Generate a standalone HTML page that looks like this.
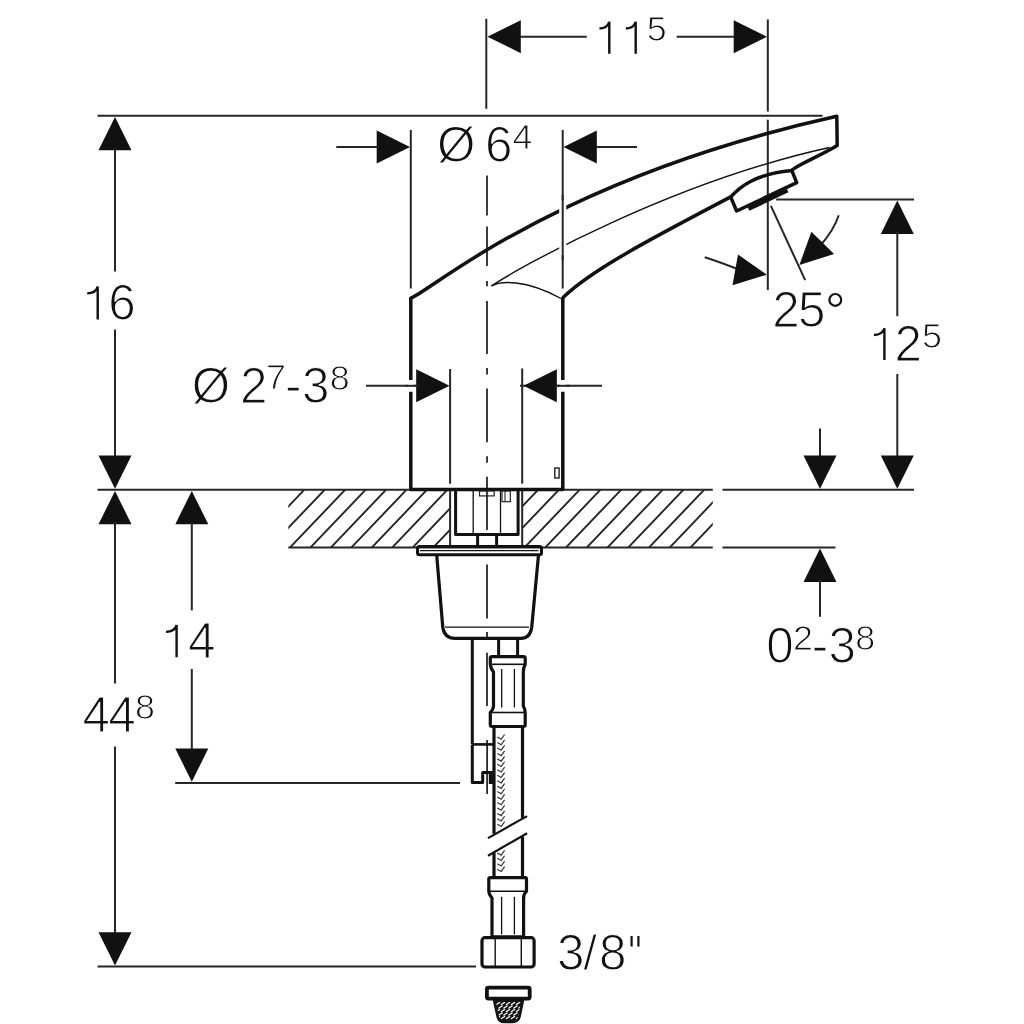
<!DOCTYPE html>
<html><head><meta charset="utf-8"><style>html,body{margin:0;padding:0;background:#fff;width:1024px;height:1024px;overflow:hidden}svg{display:block;will-change:transform}</style></head>
<body><svg width="1024" height="1024" viewBox="0 0 1024 1024">
<rect width="1024" height="1024" fill="#fff"/>
<g stroke-linecap="butt">
<line x1="97.5" y1="115.8" x2="822.5" y2="115.8" stroke="#262626" stroke-width="2.0"/>
<line x1="97.5" y1="489.8" x2="712.8" y2="489.8" stroke="#262626" stroke-width="2.0"/>
<line x1="722.5" y1="489.8" x2="914" y2="489.8" stroke="#262626" stroke-width="2.0"/>
<line x1="288.3" y1="547.4" x2="712.8" y2="547.4" stroke="#262626" stroke-width="2.0"/>
<line x1="722.5" y1="547.4" x2="835.5" y2="547.4" stroke="#262626" stroke-width="2.0"/>
<line x1="175.2" y1="783" x2="460" y2="783" stroke="#262626" stroke-width="2.0"/>
<line x1="97.5" y1="966.5" x2="476" y2="966.5" stroke="#262626" stroke-width="2.0"/>
<line x1="776.2" y1="199.6" x2="914" y2="199.6" stroke="#262626" stroke-width="2.0"/>
<line x1="486.3" y1="18.8" x2="486.3" y2="108.8" stroke="#262626" stroke-width="2.0"/>
<line x1="767.8" y1="19.5" x2="767.8" y2="111.6" stroke="#262626" stroke-width="2.0"/>
<line x1="767.8" y1="119.7" x2="767.8" y2="290" stroke="#262626" stroke-width="2.0"/>
<line x1="520" y1="36.7" x2="586.8" y2="36.7" stroke="#262626" stroke-width="2.0"/>
<line x1="676.7" y1="36.7" x2="735" y2="36.7" stroke="#262626" stroke-width="2.0"/>
<polygon points="487.5,36.7 520.8,20.2 520.8,53.2" fill="#111"/>
<polygon points="767,36.7 733.7,53.2 733.7,20.2" fill="#111"/>
<line x1="410.8" y1="130" x2="410.8" y2="288.5" stroke="#262626" stroke-width="2.0"/>
<line x1="562.7" y1="130" x2="562.7" y2="288.5" stroke="#262626" stroke-width="2.0"/>
<line x1="336.3" y1="147" x2="380" y2="147" stroke="#262626" stroke-width="2.0"/>
<line x1="594" y1="147" x2="637" y2="147" stroke="#262626" stroke-width="2.0"/>
<polygon points="410,147 376.7,163.5 376.7,130.5" fill="#111"/>
<polygon points="563.5,147 596.8,130.5 596.8,163.5" fill="#111"/>
<line x1="115" y1="148" x2="115" y2="271.6" stroke="#262626" stroke-width="2.0"/>
<line x1="115" y1="329.4" x2="115" y2="456" stroke="#262626" stroke-width="2.0"/>
<polygon points="115,117 131.5,150.3 98.5,150.3" fill="#111"/>
<polygon points="115,488.8 98.5,455.5 131.5,455.5" fill="#111"/>
<polygon points="115,491 131.5,524.3 98.5,524.3" fill="#111"/>
<line x1="115" y1="522" x2="115" y2="683.5" stroke="#262626" stroke-width="2.0"/>
<line x1="115" y1="746.5" x2="115" y2="935" stroke="#262626" stroke-width="2.0"/>
<polygon points="115,965.5 98.5,932.2 131.5,932.2" fill="#111"/>
<polygon points="191.8,491 208.3,524.3 175.3,524.3" fill="#111"/>
<line x1="191.8" y1="522" x2="191.8" y2="610.4" stroke="#262626" stroke-width="2.0"/>
<line x1="191.8" y1="669" x2="191.8" y2="750" stroke="#262626" stroke-width="2.0"/>
<polygon points="191.8,781.8 175.3,748.5 208.3,748.5" fill="#111"/>
<line x1="366" y1="385.8" x2="420" y2="385.8" stroke="#262626" stroke-width="2.0"/>
<line x1="520" y1="385.8" x2="602" y2="385.8" stroke="#262626" stroke-width="2.0"/>
<polygon points="449.5,385.8 416.2,402.3 416.2,369.3" fill="#111"/>
<polygon points="523.5,385.8 556.8,369.3 556.8,402.3" fill="#111"/>
<line x1="450.1" y1="369" x2="450.1" y2="483.7" stroke="#262626" stroke-width="2.0"/>
<line x1="522.2" y1="368.5" x2="522.2" y2="483.7" stroke="#262626" stroke-width="2.0"/>
<line x1="450.1" y1="489.6" x2="450.1" y2="547.4" stroke="#262626" stroke-width="2.0"/>
<line x1="522.2" y1="489.6" x2="522.2" y2="547.4" stroke="#262626" stroke-width="2.0"/>
<polygon points="897.3,200.6 913.8,233.9 880.8,233.9" fill="#111"/>
<line x1="897.3" y1="232" x2="897.3" y2="316.2" stroke="#262626" stroke-width="2.0"/>
<line x1="897.3" y1="374" x2="897.3" y2="458" stroke="#262626" stroke-width="2.0"/>
<polygon points="897.3,488.8 880.8,455.5 913.8,455.5" fill="#111"/>
<line x1="820" y1="428.5" x2="820" y2="458" stroke="#262626" stroke-width="2.0"/>
<polygon points="820,488.8 803.5,455.5 836.5,455.5" fill="#111"/>
<polygon points="820,548.6 836.5,581.9 803.5,581.9" fill="#111"/>
<line x1="820" y1="580" x2="820" y2="616.7" stroke="#262626" stroke-width="2.0"/>
<line x1="770.9" y1="205.9" x2="805.2" y2="280.2" stroke="#262626" stroke-width="2.0"/>
<path d="M704.7,257.2 Q720,262 740,270" stroke="#262626" stroke-width="2.0" fill="none" stroke-linejoin="round" />
<polygon points="766.9,274.7 738,254.4 732.5,285.3" fill="#111"/>
<path d="M838.75,215.3 Q834,230 820,246" stroke="#262626" stroke-width="2.0" fill="none" stroke-linejoin="round" />
<polygon points="799.4,265 811.4,231.7 834.1,254" fill="#111"/>
<line x1="487" y1="175.6" x2="487" y2="215.6" stroke="#262626" stroke-width="1.8"/>
<line x1="487" y1="226.5" x2="487" y2="266.1" stroke="#262626" stroke-width="1.8"/>
<line x1="487" y1="281" x2="487" y2="286.3" stroke="#262626" stroke-width="1.8"/>
<line x1="487" y1="301" x2="487" y2="354.1" stroke="#262626" stroke-width="1.8"/>
<line x1="487" y1="368" x2="487" y2="374.6" stroke="#262626" stroke-width="1.8"/>
<line x1="487" y1="388.5" x2="487" y2="442.3" stroke="#262626" stroke-width="1.8"/>
<line x1="487" y1="456.2" x2="487" y2="462.7" stroke="#262626" stroke-width="1.8"/>
<line x1="487" y1="476.8" x2="487" y2="530" stroke="#262626" stroke-width="1.8"/>
<line x1="487" y1="564.6" x2="487" y2="618.6" stroke="#262626" stroke-width="1.8"/>
<line x1="487" y1="632" x2="487" y2="640" stroke="#262626" stroke-width="1.8"/>
<line x1="487" y1="652.8" x2="487" y2="706" stroke="#262626" stroke-width="1.8"/>
<clipPath id="hl"><rect x="288.3" y="489.6" width="161.8" height="57.8"/></clipPath>
<clipPath id="hr"><rect x="522.2" y="489.6" width="190.6" height="57.8"/></clipPath>
<path d="M243.05,489.6 L187.85,547.4 M263.50,489.6 L208.30,547.4 M283.95,489.6 L228.75,547.4 M304.40,489.6 L249.20,547.4 M324.85,489.6 L269.65,547.4 M345.30,489.6 L290.10,547.4 M365.75,489.6 L310.55,547.4 M386.20,489.6 L331.00,547.4 M406.65,489.6 L351.45,547.4 M427.10,489.6 L371.90,547.4 M447.55,489.6 L392.35,547.4 M468.00,489.6 L412.80,547.4 M488.45,489.6 L433.25,547.4 M508.90,489.6 L453.70,547.4 M529.35,489.6 L474.15,547.4" stroke="#262626" stroke-width="1.9" clip-path="url(#hl)"/>
<path d="M476.05,489.6 L420.85,547.4 M496.80,489.6 L441.60,547.4 M517.55,489.6 L462.35,547.4 M538.30,489.6 L483.10,547.4 M559.05,489.6 L503.85,547.4 M579.80,489.6 L524.60,547.4 M600.55,489.6 L545.35,547.4 M621.30,489.6 L566.10,547.4 M642.05,489.6 L586.85,547.4 M662.80,489.6 L607.60,547.4 M683.55,489.6 L628.35,547.4 M704.30,489.6 L649.10,547.4 M725.05,489.6 L669.85,547.4 M745.80,489.6 L690.60,547.4" stroke="#262626" stroke-width="1.9" clip-path="url(#hr)"/>
<path d="M410.8,298.1 C433.6,289.0 558.2,177.8 836.8,116.3 L837.2,145.5 C822.6,154.7 793.5,166.7 791.8,170.5 L796.7,182.7 L736.6,211 L730.7,196.9 C647.5,240.5 591.7,270.1 563.8,296.8 L562.8,298.3 L562.8,489.5 L410.8,489.5 Z" stroke="#111" stroke-width="3.5" fill="none" stroke-linejoin="round" />
<path d="M730.7,196.9 C740,187 755,174 791.8,170.5" stroke="#111" stroke-width="3.5" fill="none" stroke-linejoin="round" />
<path d="M748.3,208.6 L787.4,190" stroke="#111" stroke-width="5.0" fill="none" stroke-linejoin="round" />
<circle cx="835.3" cy="299.9" r="5.9" fill="none" stroke="#111" stroke-width="2.2"/>
<path d="M631.6,936 V946.5 M638.4,936 V946.5" stroke="#111" stroke-width="2.2"/>
<path d="M491.4,286.0 C520.7,266.5 671.9,182.0 829.5,147.5" stroke="#111" stroke-width="1.4" fill="none" stroke-linejoin="round" />
<path d="M491.4,286 C500,281 525,279 561,298.5" stroke="#111" stroke-width="1.4" fill="none" stroke-linejoin="round" />
<line x1="562.7" y1="200" x2="562.7" y2="255" stroke="#fff" stroke-width="7"/>
<line x1="562.7" y1="195" x2="562.7" y2="260" stroke="#262626" stroke-width="2.0"/>
<path d="M410.8,380 V391.8 M562.8,380 V391.8" stroke="#fff" stroke-width="6"/>
<line x1="405" y1="385.8" x2="420" y2="385.8" stroke="#262626" stroke-width="2.0"/>
<line x1="555" y1="385.8" x2="570" y2="385.8" stroke="#262626" stroke-width="2.0"/>
<rect x="554.8" y="468" width="4.3" height="10" fill="none" stroke="#111" stroke-width="1.3"/>
<path d="M455.6,489.6 V534.6 H518.1 V489.6" stroke="#111" stroke-width="3.0" fill="none" stroke-linejoin="round" />
<line x1="473.2" y1="490" x2="473.2" y2="534" stroke="#111" stroke-width="1.3"/>
<line x1="500.5" y1="490" x2="500.5" y2="534" stroke="#111" stroke-width="1.3"/>
<rect x="479.5" y="491" width="14.7" height="4.9" fill="none" stroke="#222" stroke-width="1.2"/>
<rect x="502" y="491" width="8.3" height="10.7" fill="none" stroke="#222" stroke-width="1.2"/>
<line x1="505" y1="491" x2="505" y2="501.7" stroke="#111" stroke-width="1"/>
<line x1="477.6" y1="535" x2="477.6" y2="546.5" stroke="#111" stroke-width="3.0"/>
<line x1="496.6" y1="535" x2="496.6" y2="546.5" stroke="#111" stroke-width="3.0"/>
<rect x="417.5" y="546.6" width="124" height="8.2" rx="2" fill="none" stroke="#111" stroke-width="3"/>
<line x1="420" y1="550.7" x2="538.5" y2="550.7" stroke="#111" stroke-width="1.2"/>
<path d="M436.7,555 L442.8,627.5 Q444.5,638.4 455,638.4 L521,638.4 Q530,638.4 531.7,627.5 L538.5,555" stroke="#111" stroke-width="3.2" fill="none" stroke-linejoin="round" />
<line x1="444.9" y1="627.1" x2="529" y2="627.1" stroke="#111" stroke-width="1.3"/>
<line x1="472.3" y1="638" x2="472.3" y2="744" stroke="#111" stroke-width="3.0"/>
<path d="M472.3,744.4 V782.5 H482.7 V772.4 H492.8" stroke="#111" stroke-width="3.0" fill="none" stroke-linejoin="round" />
<line x1="472.3" y1="744.4" x2="494" y2="744.4" stroke="#111" stroke-width="2.6"/>
<rect x="488.8" y="771.5" width="5" height="12.5" fill="#111"/>
<line x1="487.1" y1="740" x2="487.1" y2="794" stroke="#111" stroke-width="1.6"/>
<line x1="498.6" y1="640" x2="498.6" y2="657" stroke="#111" stroke-width="3.0"/>
<line x1="517.6" y1="640" x2="517.6" y2="657" stroke="#111" stroke-width="3.0"/>
<path d="M490.3,658 Q490.3,656.7 492,656.7 L523.5,656.7 Q525.2,656.7 525.2,658 L525.2,664.3 Q523.3,668 523.3,672 L523.3,706 Q525.2,709 525.2,712.5 L525.2,724.8 Q525.2,726.5 523.5,726.5 L492,726.5 Q490.3,726.5 490.3,724.8 L490.3,712.5 Q493.5,709 493.5,706 L493.5,672 Q490.3,668 490.3,664.3 Z" stroke="#111" stroke-width="3.2" fill="none" stroke-linejoin="round" />
<line x1="492" y1="664.3" x2="524" y2="664.3" stroke="#111" stroke-width="1.6"/>
<line x1="492" y1="712.5" x2="524" y2="712.5" stroke="#111" stroke-width="1.6"/>
<line x1="501.7" y1="669" x2="501.7" y2="707.5" stroke="#111" stroke-width="1.3"/>
<line x1="514.4" y1="669" x2="514.4" y2="707.5" stroke="#111" stroke-width="1.3"/>
<line x1="494" y1="727" x2="494" y2="833.7" stroke="#111" stroke-width="3.2"/>
<line x1="522.5" y1="727" x2="522.5" y2="818" stroke="#111" stroke-width="3.2"/>
<line x1="494" y1="852.7" x2="494" y2="877" stroke="#111" stroke-width="3.2"/>
<line x1="522.5" y1="836.6" x2="522.5" y2="877" stroke="#111" stroke-width="3.2"/>
<line x1="488" y1="838.1" x2="527.1" y2="816.1" stroke="#111" stroke-width="2.2"/>
<line x1="488" y1="855.7" x2="527.1" y2="833.2" stroke="#111" stroke-width="2.2"/>
<path d="M497.3,737.10 L501.2,739.30 L504.6,734.50 M497.3,742.55 L501.2,744.75 L504.6,739.95 M497.3,748.00 L501.2,750.20 L504.6,745.40 M497.3,753.45 L501.2,755.65 L504.6,750.85 M497.3,758.90 L501.2,761.10 L504.6,756.30 M497.3,764.35 L501.2,766.55 L504.6,761.75 M497.3,769.80 L501.2,772.00 L504.6,767.20 M497.3,775.25 L501.2,777.45 L504.6,772.65 M497.3,780.70 L501.2,782.90 L504.6,778.10 M497.3,786.15 L501.2,788.35 L504.6,783.55 M497.3,791.60 L501.2,793.80 L504.6,789.00 M497.3,797.05 L501.2,799.25 L504.6,794.45 M497.3,802.50 L501.2,804.70 L504.6,799.90 M497.3,807.95 L501.2,810.15 L504.6,805.35 M497.3,813.40 L501.2,815.60 L504.6,810.80 M497.3,818.85 L501.2,821.05 L504.6,816.25 M497.3,824.30 L501.2,826.50 L504.6,821.70 M497.3,852.90 L501.2,855.10 L504.6,850.30 M497.3,858.35 L501.2,860.55 L504.6,855.75 M497.3,863.80 L501.2,866.00 L504.6,861.20 M497.3,869.25 L501.2,871.45 L504.6,866.65" stroke="#333" stroke-width="1.2" fill="none"/>
<path d="M488.8,879 Q488.8,877.6 490.5,877.6 L525,877.6 Q526.5,877.6 526.5,879 L526.5,891.2 Q523.6,894 523.6,898 L523.6,936.9 L492,936.9 L492,898 Q488.8,894 488.8,891.2 Z" stroke="#111" stroke-width="3.2" fill="none" stroke-linejoin="round" />
<line x1="490" y1="891.2" x2="525" y2="891.2" stroke="#111" stroke-width="1.6"/>
<line x1="501.6" y1="896.8" x2="501.6" y2="934.4" stroke="#111" stroke-width="1.3"/>
<line x1="514.4" y1="896.8" x2="514.4" y2="934.4" stroke="#111" stroke-width="1.3"/>
<rect x="482" y="937.7" width="52.1" height="29.3" rx="3" fill="none" stroke="#111" stroke-width="3.2"/>
<line x1="495.2" y1="939" x2="495.2" y2="966" stroke="#111" stroke-width="1.4"/>
<line x1="521.3" y1="939" x2="521.3" y2="966" stroke="#111" stroke-width="1.4"/>
<rect x="486.9" y="987.6" width="42.8" height="11" rx="1.5" fill="none" stroke="#111" stroke-width="3.8"/>
<path d="M493.5,1000 L523.5,1000 L520,1017 Q518.5,1022.5 512,1022.5 L504.5,1022.5 Q498.5,1022.5 497.2,1017 Z" stroke="#111" stroke-width="1.5" fill="#161616" stroke-linejoin="round" />
<clipPath id="cone"><path d="M496,1002 L521,1002 L518,1017 Q517,1020.5 512,1020.5 L504.5,1020.5 Q499.5,1020.5 499,1017 Z"/></clipPath>
<path d="M496.4,1004.6 L499.6,1002.4 M501.4,1004.6 L504.6,1002.4 M506.4,1004.6 L509.6,1002.4 M511.4,1004.6 L514.6,1002.4 M516.4,1004.6 L519.6,1002.4 M498.9,1008.1 L502.1,1005.9 M503.9,1008.1 L507.1,1005.9 M508.9,1008.1 L512.1,1005.9 M513.9,1008.1 L517.1,1005.9 M518.9,1008.1 L522.1,1005.9 M496.4,1011.6 L499.6,1009.4 M501.4,1011.6 L504.6,1009.4 M506.4,1011.6 L509.6,1009.4 M511.4,1011.6 L514.6,1009.4 M516.4,1011.6 L519.6,1009.4 M498.9,1015.1 L502.1,1012.9 M503.9,1015.1 L507.1,1012.9 M508.9,1015.1 L512.1,1012.9 M513.9,1015.1 L517.1,1012.9 M518.9,1015.1 L522.1,1012.9 M496.4,1018.6 L499.6,1016.4 M501.4,1018.6 L504.6,1016.4 M506.4,1018.6 L509.6,1016.4 M511.4,1018.6 L514.6,1016.4 M516.4,1018.6 L519.6,1016.4" stroke="#fff" stroke-width="1.2" stroke-linecap="round" clip-path="url(#cone)"/>
</g>
<g stroke="#111" stroke-linecap="butt">
<path d="M609.30,53.80 V21.70 C608.10,26.10 604.80,28.30 599.50,28.50" stroke-width="2.4" fill="none"/>
<path d="M635.70,53.80 V21.70 C634.50,26.10 631.20,28.30 625.90,28.50" stroke-width="2.4" fill="none"/>
<path d="M97.70,319.60 V286.60 C96.50,291.00 93.20,293.20 87.20,293.40" stroke-width="2.4" fill="none"/>
<path d="M884.40,360.10 V328.20 C883.20,332.60 879.90,334.80 873.90,335.00" stroke-width="2.4" fill="none"/>
<path d="M176.60,657.30 V625.10 C175.40,629.50 172.10,631.70 166.00,631.90" stroke-width="2.4" fill="none"/>
</g>
<g font-family="'Liberation Sans', sans-serif" fill="#111" stroke="#fff" paint-order="normal">
<text x="646.80" y="41.33" font-size="35.9" stroke-width="1.0">5</text>
<text x="437.05" y="162.28" font-size="49.4" stroke-width="1.2">Ø</text>
<text x="485.00" y="162.20" font-size="49.4" stroke-width="1.2">6</text>
<text x="512.62" y="148.90" font-size="35.9" stroke-width="1.0">4</text>
<text x="108.30" y="319.90" font-size="49.4" stroke-width="1.2">6</text>
<text x="191.75" y="402.67" font-size="49.4" stroke-width="1.2">Ø</text>
<text x="239.90" y="402.70" font-size="49.4" stroke-width="1.2">2</text>
<text x="266.12" y="388.50" font-size="35.9" stroke-width="1.0">7</text>
<text x="284.95" y="402.20" font-size="49.4" stroke-width="1.2">-</text>
<text x="302.02" y="403.10" font-size="49.4" stroke-width="1.2">3</text>
<text x="329.80" y="389.70" font-size="35.9" stroke-width="1.0">8</text>
<text x="772.15" y="326.70" font-size="49.4" stroke-width="1.2">2</text>
<text x="797.90" y="326.60" font-size="49.4" stroke-width="1.2">5</text>
<text x="894.40" y="360.70" font-size="49.4" stroke-width="1.2">2</text>
<text x="922.00" y="347.52" font-size="35.9" stroke-width="1.0">5</text>
<text x="766.32" y="663.10" font-size="49.4" stroke-width="1.2">0</text>
<text x="792.95" y="649.50" font-size="35.9" stroke-width="1.0">2</text>
<text x="811.65" y="662.40" font-size="49.4" stroke-width="1.2">-</text>
<text x="828.42" y="662.60" font-size="49.4" stroke-width="1.2">3</text>
<text x="855.30" y="649.80" font-size="35.9" stroke-width="1.0">8</text>
<text x="188.08" y="657.90" font-size="49.4" stroke-width="1.2">4</text>
<text x="82.48" y="732.00" font-size="49.4" stroke-width="1.2">4</text>
<text x="108.28" y="732.00" font-size="49.4" stroke-width="1.2">4</text>
<text x="135.00" y="718.60" font-size="35.9" stroke-width="1.0">8</text>
<text x="557.02" y="969.60" font-size="49.4" stroke-width="1.2">3</text>
<text x="583.15" y="969.60" font-size="49.4" stroke-width="1.2">/</text>
<text x="598.98" y="969.60" font-size="49.4" stroke-width="1.2">8</text>
</g>
</svg></body></html>
